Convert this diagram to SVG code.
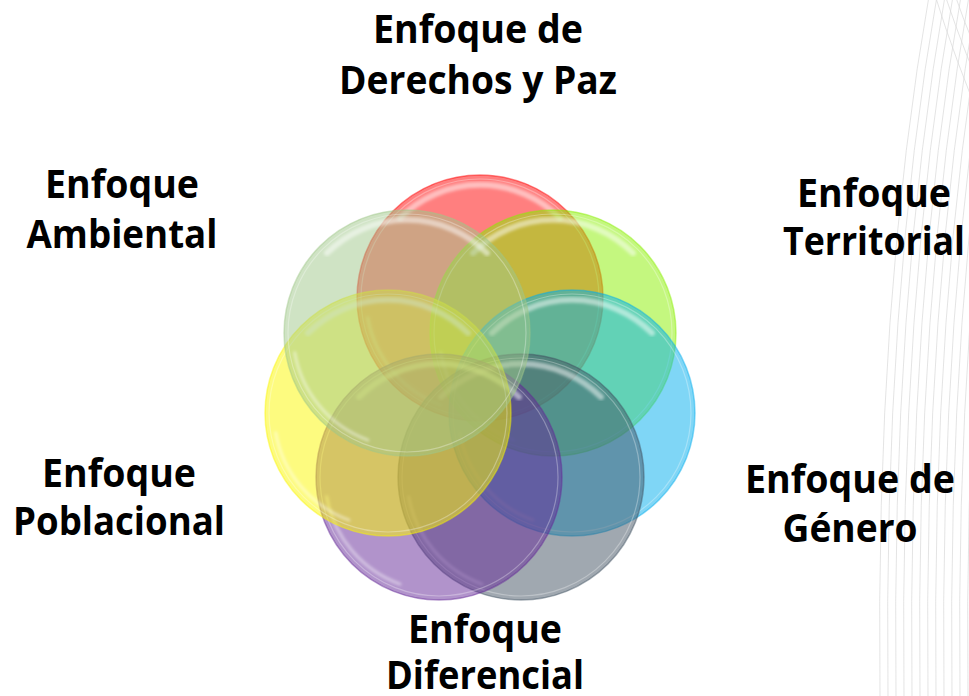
<svg xmlns="http://www.w3.org/2000/svg" xmlns:xlink="http://www.w3.org/1999/xlink" width="969" height="696" viewBox="0 0 969 696">
  <style>
    .lbl { font-family: "Open Sans", "Noto Sans", "DejaVu Sans", sans-serif; font-weight: 700; font-size: 40px; fill: #000000; text-anchor: middle; }
    .deco { fill: none; stroke: #d9d9d9; stroke-width: 0.7; }
    .disc { fill-opacity: 0.5; stroke-width: 1.5; stroke-opacity: 0.45; }
    .hl { fill: none; stroke: #ffffff; stroke-linecap: round; }
    .hl-top { stroke-width: 6; stroke-opacity: 0.5; }
    .hl-low { stroke-width: 3; stroke-opacity: 0.45; }
    .rim { fill: none; stroke: #ffffff; stroke-width: 1.2; stroke-opacity: 0.3; }
  </style>
  <defs>
    <filter id="soft" x="-10%" y="-10%" width="120%" height="120%">
      <feGaussianBlur stdDeviation="1.6"/>
    </filter>
    <g id="gloss">
      <circle class="rim" r="119"/>
      <path class="hl hl-top" filter="url(#soft)" d="M -80 -80 A 113 113 0 0 1 80 -80"/>
      <path class="hl hl-low" filter="url(#soft)" d="M -39 107.1 A 114 114 0 0 1 -112.3 19.8"/>
    </g>
  </defs>

  <rect width="969" height="696" fill="#ffffff"/>

  <g id="background-lines">
    <path class="deco" d="M 930 -10 Q 875 300 880 700"/>
    <path class="deco" d="M 938 -10 Q 883 300 888 700"/>
    <path class="deco" d="M 946 -10 Q 891 300 896 700"/>
    <path class="deco" d="M 954 -10 Q 899 300 904 700"/>
    <path class="deco" d="M 962 -10 Q 907 300 912 700"/>
    <path class="deco" d="M 970 -10 Q 915 300 920 700"/>
    <path class="deco" d="M 978 -10 Q 923 300 928 700"/>
    <path class="deco" d="M 986 -10 Q 931 300 936 700"/>
    <path class="deco" d="M 994 -10 Q 939 300 944 700"/>
    <path class="deco" d="M 1002 -10 Q 947 300 952 700"/>
    <path class="deco" d="M 1010 -10 Q 955 300 960 700"/>
    <path class="deco" d="M 1018 -10 Q 963 300 968 700"/>
    <path class="deco" d="M 935 -5 Q 955 60 985 130"/>
    <path class="deco" d="M 945 -5 Q 965 55 990 110"/>
    <path class="deco" d="M 955 -5 Q 972 45 995 90"/>
  </g>

  <g id="node-derechos">
    <circle class="disc" cx="480" cy="298" r="123" fill="#ff0000" stroke="#ff0000"/>
    <use xlink:href="#gloss" href="#gloss" transform="translate(480 298)"/>
    <text class="lbl" x="478" y="43" textLength="210" lengthAdjust="spacingAndGlyphs">Enfoque de</text>
    <text class="lbl" x="478" y="94" textLength="278" lengthAdjust="spacingAndGlyphs">Derechos y Paz</text>
  </g>

  <g id="node-territorial">
    <circle class="disc" cx="553" cy="333" r="123" fill="#89ef00" stroke="#89ef00"/>
    <use xlink:href="#gloss" href="#gloss" transform="translate(553 333)"/>
    <text class="lbl" x="874" y="207" textLength="154" lengthAdjust="spacingAndGlyphs">Enfoque</text>
    <text class="lbl" x="874" y="255" textLength="182" lengthAdjust="spacingAndGlyphs">Territorial</text>
  </g>

  <g id="node-genero">
    <circle class="disc" cx="572" cy="413" r="123" fill="#00aded" stroke="#00aded"/>
    <use xlink:href="#gloss" href="#gloss" transform="translate(572 413)"/>
    <text class="lbl" x="850" y="493" textLength="210" lengthAdjust="spacingAndGlyphs">Enfoque de</text>
    <text class="lbl" x="850" y="542" textLength="135" lengthAdjust="spacingAndGlyphs">Género</text>
  </g>

  <g id="node-gris">
    <circle class="disc" cx="521" cy="477" r="123" fill="#415161" stroke="#415161"/>
    <use xlink:href="#gloss" href="#gloss" transform="translate(521 477)"/>
  </g>

  <g id="node-diferencial">
    <circle class="disc" cx="439" cy="477" r="123" fill="#632797" stroke="#632797"/>
    <use xlink:href="#gloss" href="#gloss" transform="translate(439 477)"/>
    <text class="lbl" x="485" y="643" textLength="154" lengthAdjust="spacingAndGlyphs">Enfoque</text>
    <text class="lbl" x="485" y="689" textLength="198" lengthAdjust="spacingAndGlyphs">Diferencial</text>
  </g>

  <g id="node-poblacional">
    <circle class="disc" cx="388" cy="413" r="123" fill="#fbf700" stroke="#fbf700"/>
    <use xlink:href="#gloss" href="#gloss" transform="translate(388 413)"/>
    <text class="lbl" x="119" y="487" textLength="154" lengthAdjust="spacingAndGlyphs">Enfoque</text>
    <text class="lbl" x="119" y="535" textLength="212" lengthAdjust="spacingAndGlyphs">Poblacional</text>
  </g>

  <g id="node-ambiental">
    <circle class="disc" cx="407" cy="333" r="123" fill="#9fc789" stroke="#9fc789"/>
    <use xlink:href="#gloss" href="#gloss" transform="translate(407 333)"/>
    <text class="lbl" x="122" y="198" textLength="154" lengthAdjust="spacingAndGlyphs">Enfoque</text>
    <text class="lbl" x="122" y="248" textLength="191" lengthAdjust="spacingAndGlyphs">Ambiental</text>
  </g>
</svg>
